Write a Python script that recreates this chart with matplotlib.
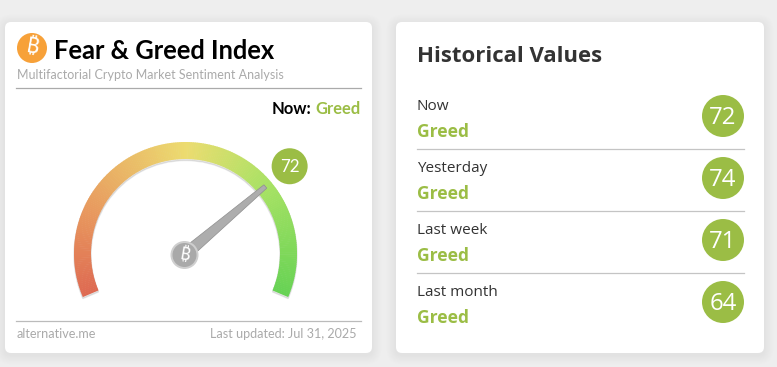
import numpy as np
import matplotlib
matplotlib.use('Agg')
import matplotlib.pyplot as plt
from matplotlib.patches import FancyBboxPatch, Circle, Wedge, Polygon

# data
index_value = 72
index_class = 'Greed'
hist_labels = ['Now', 'Yesterday', 'Last week', 'Last month']
hist_class = ['Greed', 'Greed', 'Greed', 'Greed']
hist_values = [72, 74, 71, 64]
grad_pos = [0, 0.2, 0.5, 0.72, 1]
grad_cols = ['#de6a52', '#e8985e', '#ecdc70', '#a8e264', '#66d254']

W, H = 777, 367
GREEN = '#9bbd45'
GREY = '#aaaaaa'
DARK = '#333333'
LEFT = ['Lato', 'DejaVu Sans']
RIGHT = ['Open Sans', 'DejaVu Sans']
SYMBOL = ['Noto Sans', 'Inter', 'Roboto', 'Liberation Sans', 'DejaVu Sans']
cx, cy = 185.5, 253.5
start_ang, end_ang = 203, -23


def px(v):
    return v * 0.72


def ang(v):
    return np.radians(start_ang + (end_ang - start_ang) * v / 100)


def card(ax, x0, y0, x1, y1):
    for g in range(12, 0, -1):
        ax.add_patch(FancyBboxPatch((x0 - g * 0.8, y0 + 2 - g * 0.8), x1 - x0 + g * 1.6, y1 - y0 + g * 1.6,
                                    boxstyle='round,pad=0,rounding_size=%g' % (6 + g * 0.8),
                                    fc='black', ec='none', alpha=0.003, zorder=1))
    ax.add_patch(FancyBboxPatch((x0, y0), x1 - x0, y1 - y0, boxstyle='round,pad=0,rounding_size=6',
                                fc='white', ec='none', zorder=2))


def btc(ax, x, y, r, col, txt):
    ax.add_patch(Circle((x, y), r, fc=col, ec='none', zorder=6))
    ax.text(x, y, '\u20bf', color=txt, fontsize=px(r * 1.5), fontweight='bold', rotation=-10,
            ha='center', va='center', family=SYMBOL, zorder=7)


fig = plt.figure(figsize=(W / 100, H / 100), dpi=100, facecolor='#eeeeee')
ax = fig.add_axes([0, 0, 1, 1])
ax.set_xlim(0, W)
ax.set_ylim(H, 0)
ax.axis('off')

card(ax, 5, 22, 372, 353)
card(ax, 396, 22, 764, 353)

# left card header
btc(ax, 32, 48, 15, '#f7a139', 'white')
ax.text(54, 51, 'Fear & Greed Index', fontsize=px(25.5), fontweight='bold', color='black',
        family=LEFT, va='center', zorder=5)
ax.text(17, 75, 'Multifactorial Crypto Market Sentiment Analysis', fontsize=px(12.5), color=GREY,
        family=LEFT, va='center', zorder=5)
ax.plot([16, 361], [88, 88], color='#aaaaaa', lw=0.9, zorder=5)
ax.text(311, 109, 'Now:', fontsize=px(16.5), fontweight='bold', color='black', family=LEFT,
        ha='right', va='center', zorder=5)
ax.text(361, 109, index_class, fontsize=px(16.5), fontweight='bold', color=GREEN, family=LEFT,
        ha='right', va='center', zorder=5)

# gauge, y axis is flipped so the wedge angles are mirrored
steps = np.linspace(0, 100, 221)
rgb = np.array([matplotlib.colors.to_rgb(c) for c in grad_cols])
t_a = -np.degrees(ang(0))
t_b = -np.degrees(ang(100))
ax.add_patch(Wedge((cx, cy + 1.5), 111.5, t_a, t_b, width=17, fc='black', ec='black', lw=1, alpha=0.09, zorder=3))
for a, b in zip(steps[:-1], steps[1:]):
    col = [np.interp(a / 100, grad_pos, rgb[:, i]) for i in range(3)]
    t0 = -np.degrees(ang(a))
    t1 = -np.degrees(ang(b))
    ax.add_patch(Wedge((cx, cy), 111.5, t0, t1 + 0.3 if b < 100 else t1, width=17, fc=col, ec='none', zorder=3))

# needle and badge
a = ang(index_value)
ux, uy = np.cos(a), -np.sin(a)
nx, ny = -uy, ux
hx, hy = cx - 1, cy + 1.5
needle = [(hx + nx * 6, hy + ny * 6), (hx - nx * 6, hy - ny * 6),
          (hx + ux * 106 - nx * 2.2, hy + uy * 106 - ny * 2.2), (hx + ux * 106 + nx * 2.2, hy + uy * 106 + ny * 2.2)]
ax.add_patch(Polygon(needle, closed=True, fc='#adadad', ec='#8f8f8f', lw=0.5, zorder=5))
ax.add_patch(Circle((hx, hy), 14, fc='#cfcfcf', ec='none', zorder=5))
btc(ax, hx, hy, 12, '#a9a9a9', 'white')
bx, by = cx + ux * 136.5, cy + uy * 136.5 + 1
ax.add_patch(Circle((bx, by), 18, fc=GREEN, ec='none', zorder=6))
ax.text(bx, by + 1, str(index_value), color='white', fontsize=px(17), family=LEFT,
        ha='center', va='center', zorder=7)

# left footer
ax.plot([16, 361], [321, 321], color='#bbbbbb', lw=0.9, zorder=5)
ax.text(17, 334, 'alternative.me', fontsize=px(12.6), color=GREY, family=LEFT, va='center', zorder=5)
ax.text(356, 334, 'Last updated: Jul 31, 2025', fontsize=px(12.6), color=GREY, family=LEFT,
        ha='right', va='center', zorder=5)

# right card
ax.text(417, 57, 'Historical Values', fontsize=px(22.2), fontweight='bold', color=DARK, family=RIGHT,
        va='center', zorder=5)
for i, (lab, cl, val) in enumerate(zip(hist_labels, hist_class, hist_values)):
    y = 62 * i
    ax.text(417, 107 + y, lab, fontsize=px(15.2), color=DARK, family=RIGHT, va='center', zorder=5)
    ax.text(417, 132 + y, cl, fontsize=px(17.5), fontweight='bold', color=GREEN, family=RIGHT, va='center', zorder=5)
    ax.add_patch(Circle((723, 116 + y), 21, fc=GREEN, ec='none', zorder=5))
    ax.text(723, 118 + y, str(val), fontsize=px(24), color='white', family=RIGHT, ha='center', va='center', zorder=6)
    if i < 3:
        ax.plot([417, 744], [149 + y, 149 + y], color='#c4c4c4', lw=0.9, zorder=5)

fig.savefig('out.png', dpi=100, facecolor=fig.get_facecolor())
